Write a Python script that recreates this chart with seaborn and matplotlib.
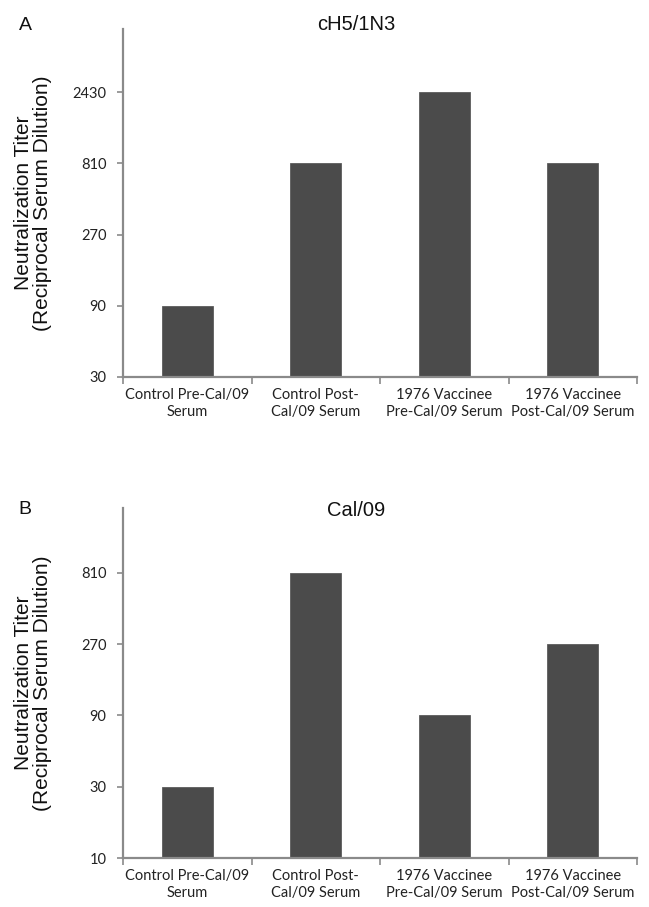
import matplotlib
matplotlib.use("Agg")
import matplotlib.pyplot as plt
from matplotlib.ticker import FixedLocator, FixedFormatter, NullLocator
import seaborn as sns
import pandas as pd

categories = ["Control Pre-Cal/09\nSerum", "Control Post-\nCal/09 Serum",
              "1976 Vaccinee\nPre-Cal/09 Serum", "1976 Vaccinee\nPost-Cal/09 Serum"]
titers_a = [90, 810, 2430, 810]
titers_b = [30, 810, 90, 270]
ticks_a = [30, 90, 270, 810, 2430]
ticks_b = [10, 30, 90, 270, 810]
ylim_a = (30, 6450)
ylim_b = (10, 2200)
title_a = "cH5/1N3"
title_b = "Cal/09"
ylabel = "Neutralization Titer\n(Reciprocal Serum Dilution)"

sns.set_theme(style="white")
plt.rcParams['font.family'] = ['Liberation Sans', 'DejaVu Sans']

W, H = 649, 907
fig = plt.figure(figsize=(W / 100, H / 100), dpi=100)

axis_col = "#8a8a8a"
bar_col = "#4b4b4b"
tick_font = "Lato"


def panel(rect, values, ticks, ylim, title, title_y, letter, letter_y):
    ax = fig.add_axes(rect)
    df = pd.DataFrame({"cat": categories, "val": values})
    sns.barplot(data=df, x="cat", y="val", order=categories, color=bar_col,
                width=0.4, saturation=1, edgecolor="#5c5c5c", linewidth=0.6, ax=ax)
    ax.set_yscale("log", base=3)
    ax.set_ylim(*ylim)
    ax.set_xlim(-0.5, len(categories) - 0.5)
    ax.yaxis.set_major_locator(FixedLocator(ticks))
    ax.yaxis.set_major_formatter(FixedFormatter([str(t) for t in ticks]))
    ax.yaxis.set_minor_locator(NullLocator())
    ax.xaxis.set_minor_locator(FixedLocator([i - 0.5 for i in range(len(categories) + 1)]))
    for s in ["top", "right"]:
        ax.spines[s].set_visible(False)
    for s in ["left", "bottom"]:
        ax.spines[s].set_color(axis_col)
        ax.spines[s].set_linewidth(1.6)
    ax.tick_params(axis="y", which="major", length=4, width=1.2, color=axis_col,
                   direction="out", left=True, pad=8, labelsize=10.5)
    ax.tick_params(axis="x", which="major", length=0, pad=8, labelsize=10.5)
    ax.tick_params(axis="x", which="minor", length=5, width=1.2, color=axis_col,
                   direction="out", bottom=True)
    for lab in ax.get_xticklabels() + ax.get_yticklabels():
        lab.set_fontfamily(tick_font)
        lab.set_color("#222222")
    for lab in ax.get_xticklabels():
        lab.set_linespacing(1.25)
    ax.set_xlabel("")
    ax.set_ylabel(ylabel, fontsize=15, linespacing=1.0, color="#111111")
    ax.yaxis.set_label_coords(-0.138, 0.5)
    ax.grid(False)
    fig.text(356 / W, 1 - title_y / H, title, ha="center", va="center",
             fontsize=14.5, color="#111111")
    fig.text(25 / W, 1 - letter_y / H, letter, ha="center", va="center",
             fontsize=14, color="#111111")
    return ax


left = 123 / W
width = (637 - 123) / W
panel([left, 1 - 377 / H, width, (377 - 29) / H], titers_a, ticks_a, ylim_a,
      title_a, 25, "A", 25)
panel([left, 1 - 858 / H, width, (858 - 508) / H], titers_b, ticks_b, ylim_b,
      title_b, 510, "B", 509)

fig.savefig("out.png", dpi=100)
